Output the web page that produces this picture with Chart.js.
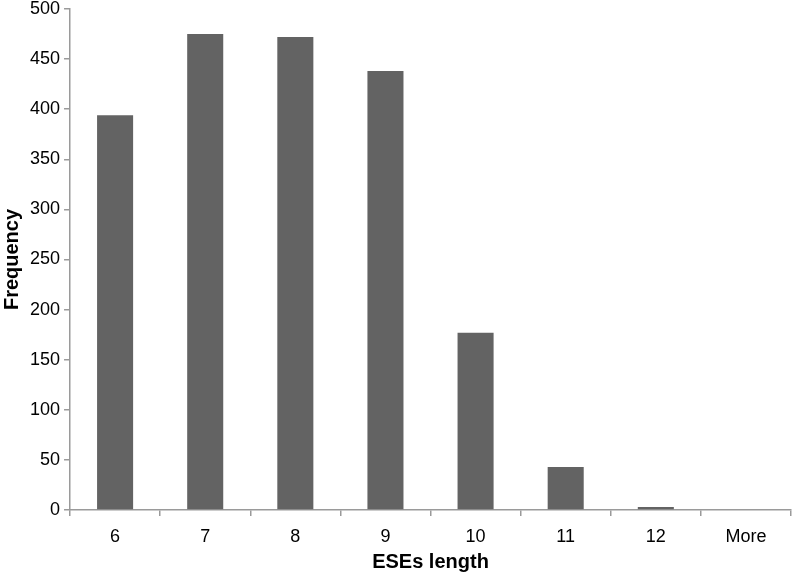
<!DOCTYPE html>
<html>
<head>
<meta charset="utf-8">
<script src="https://cdn.jsdelivr.net/npm/chart.js@4/dist/chart.umd.min.js"></script>
<style>
  html, body { margin: 0; padding: 0; background: #fff; }
  #wrap { width: 794px; height: 574px; }
</style>
</head>
<body>
<div id="wrap"><canvas id="chart" width="794" height="574"></canvas></div>
<script>
// Datos del histograma
const categories = ['6', '7', '8', '9', '10', '11', '12', 'More'];
const frequency = [394, 475, 472, 438, 177, 43, 3, 0];
const yTicks = [0, 50, 100, 150, 200, 250, 300, 350, 400, 450, 500];

const axisColor = '#9a9a9a';
const family = '"Liberation Sans", Arial, sans-serif';
const tickFont = { family: family, size: 18 };
const titleFont = { family: family, size: 20, weight: 'bold' };

new Chart(document.getElementById('chart'), {
    type: 'bar',
    data: {
        labels: categories,
        datasets: [{
            label: 'Frequency',
            data: frequency,
            backgroundColor: '#636363',
            borderWidth: 0,
            categoryPercentage: 0.4,
            barPercentage: 1.0
        }]
    },
    options: {
        responsive: false,
        animation: false,
        layout: { padding: { top: 9, right: 3, left: 0, bottom: 0 } },
        plugins: {
            legend: { display: false },
            tooltip: { enabled: false }
        },
        scales: {
            x: {
                offset: true,
                afterFit: axis => { axis.height = 64; },
                grid: {
                    offset: true,
                    drawOnChartArea: false,
                    drawTicks: true,
                    tickLength: 6,
                    color: axisColor,
                    lineWidth: 1.5
                },
                border: { color: axisColor, width: 1.5 },
                ticks: { color: '#000', font: tickFont, padding: 10, maxRotation: 0 },
                title: {
                    display: true,
                    text: 'ESEs length',
                    color: '#000',
                    font: titleFont,
                    padding: { top: 0, bottom: 0 }
                }
            },
            y: {
                min: 0,
                max: 500,
                afterBuildTicks: axis => { axis.ticks = yTicks.map(v => ({ value: v })); },
                afterFit: axis => { axis.paddingTop = 0; },
                grid: {
                    drawOnChartArea: false,
                    drawTicks: true,
                    tickLength: 6,
                    color: axisColor,
                    lineWidth: 1.5
                },
                border: { color: axisColor, width: 1.5 },
                ticks: { color: '#000', font: tickFont, padding: 4 },
                title: {
                    display: true,
                    text: 'Frequency',
                    color: '#000',
                    font: titleFont,
                    padding: { top: 0, bottom: 2 }
                }
            }
        }
    }
});
</script>
</body>
</html>
